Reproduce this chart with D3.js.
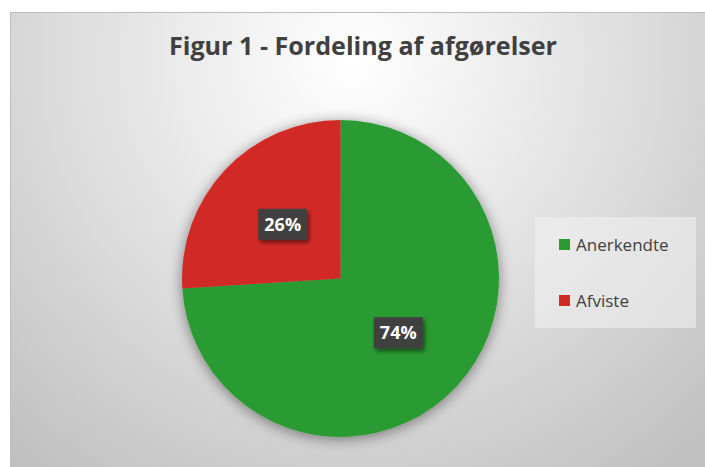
<!DOCTYPE html>
<html>
<head>
<meta charset="utf-8">
<title>Figur 1</title>
<script src="https://cdn.jsdelivr.net/npm/d3@7/dist/d3.min.js"></script>
<style>
	body, html { margin: 0; background: #fff; overflow: hidden; }
	text { font-family: "Open Sans", "Noto Sans", sans-serif; }
</style>
</head>
<body>
<div id="chart"></div>
<script>
	// data
	var categories = ["Anerkendte", "Afviste"];
	var values = [74, 26];
	var labels = ["74%", "26%"];
	var colors = ["#2c9a32", "#d12b25"];
	var title = "Figur 1 - Fordeling af afgørelser";

	var w = 705, h = 467;
	var svg = d3.select("#chart").append("svg")
		.attr("width", w).attr("height", h);

	var defs = svg.append("defs");
	var bg = defs.append("radialGradient").attr("id", "bg")
		.attr("gradientUnits", "userSpaceOnUse")
		.attr("cx", 352).attr("cy", 60).attr("r", 520);
	bg.append("stop").attr("offset", "0").attr("stop-color", "#ffffff");
	bg.append("stop").attr("offset", "0.35").attr("stop-color", "#eaeaea");
	bg.append("stop").attr("offset", "1").attr("stop-color", "#c0c0c0");

	var sh = defs.append("filter").attr("id", "pieShadow")
		.attr("x", "-20%").attr("y", "-20%").attr("width", "140%").attr("height", "140%");
	sh.append("feGaussianBlur").attr("in", "SourceAlpha").attr("stdDeviation", 7);
	sh.append("feOffset").attr("dx", 0).attr("dy", 2).attr("result", "b");
	sh.append("feComponentTransfer").append("feFuncA").attr("type", "linear").attr("slope", 0.45);
	var m = sh.append("feMerge");
	m.append("feMergeNode");
	m.append("feMergeNode").attr("in", "SourceGraphic");

	var ls = defs.append("filter").attr("id", "lblShadow")
		.attr("x", "-30%").attr("y", "-30%").attr("width", "160%").attr("height", "160%");
	ls.append("feGaussianBlur").attr("in", "SourceAlpha").attr("stdDeviation", 2);
	ls.append("feOffset").attr("dx", 2).attr("dy", 3);
	ls.append("feComponentTransfer").append("feFuncA").attr("type", "linear").attr("slope", 0.5);
	var m2 = ls.append("feMerge");
	m2.append("feMergeNode");
	m2.append("feMergeNode").attr("in", "SourceGraphic");

	// chart area
	svg.append("rect")
		.attr("x", 10.5).attr("y", 12.5)
		.attr("width", w - 10).attr("height", h - 12)
		.attr("fill", "url(#bg)")
		.attr("stroke", "#bdbdbd").attr("stroke-width", 1);

	svg.append("text")
		.attr("x", 363).attr("y", 55)
		.attr("text-anchor", "middle")
		.attr("font-size", 25).attr("font-weight", "bold")
		.attr("fill", "#404040")
		.attr("textLength", 388).attr("lengthAdjust", "spacingAndGlyphs")
		.text(title);

	// pie
	var cx = 340.5, cy = 278.5, R = 158.5;
	var pie = d3.pie().sort(null).value(function (d) { return d; });
	var arc = d3.arc().innerRadius(0).outerRadius(R);
	var lblArc = d3.arc().innerRadius(R * 0.5).outerRadius(R * 0.5);
	var arcs = pie(values);

	var g = svg.append("g").attr("transform", "translate(" + cx + "," + cy + ")");
	g.append("g").attr("filter", "url(#pieShadow)")
		.selectAll("path").data(arcs).enter().append("path")
		.attr("d", arc)
		.attr("fill", function (d, i) { return colors[i]; });

	var lbl = g.selectAll(".lbl").data(arcs).enter().append("g")
		.attr("class", "lbl")
		.attr("transform", function (d) {
			var c = lblArc.centroid(d);
			return "translate(" + c[0] + "," + c[1] + ")";
		});
	lbl.append("rect")
		.attr("x", -24.5).attr("y", -15.5).attr("width", 49).attr("height", 31)
		.attr("fill", "#3f3f3f")
		.attr("filter", "url(#lblShadow)");
	lbl.append("text")
		.attr("text-anchor", "middle").attr("y", 6.5)
		.attr("font-size", 18).attr("font-weight", "bold")
		.attr("fill", "#ffffff")
		.text(function (d, i) { return labels[i]; });

	// legend
	var leg = svg.append("g");
	leg.append("rect")
		.attr("x", 535).attr("y", 217).attr("width", 161).attr("height", 111)
		.attr("fill", "#f2f2f2").attr("fill-opacity", 0.55);
	var items = leg.selectAll(".item").data(categories).enter().append("g")
		.attr("transform", function (d, i) { return "translate(559," + (239 + i * 56) + ")"; });
	items.append("rect")
		.attr("width", 11).attr("height", 11)
		.attr("fill", function (d, i) { return colors[i]; });
	items.append("text")
		.attr("x", 17).attr("y", 12)
		.attr("font-size", 17).attr("fill", "#404040")
		.text(function (d) { return d; });
</script>
</body>
</html>
